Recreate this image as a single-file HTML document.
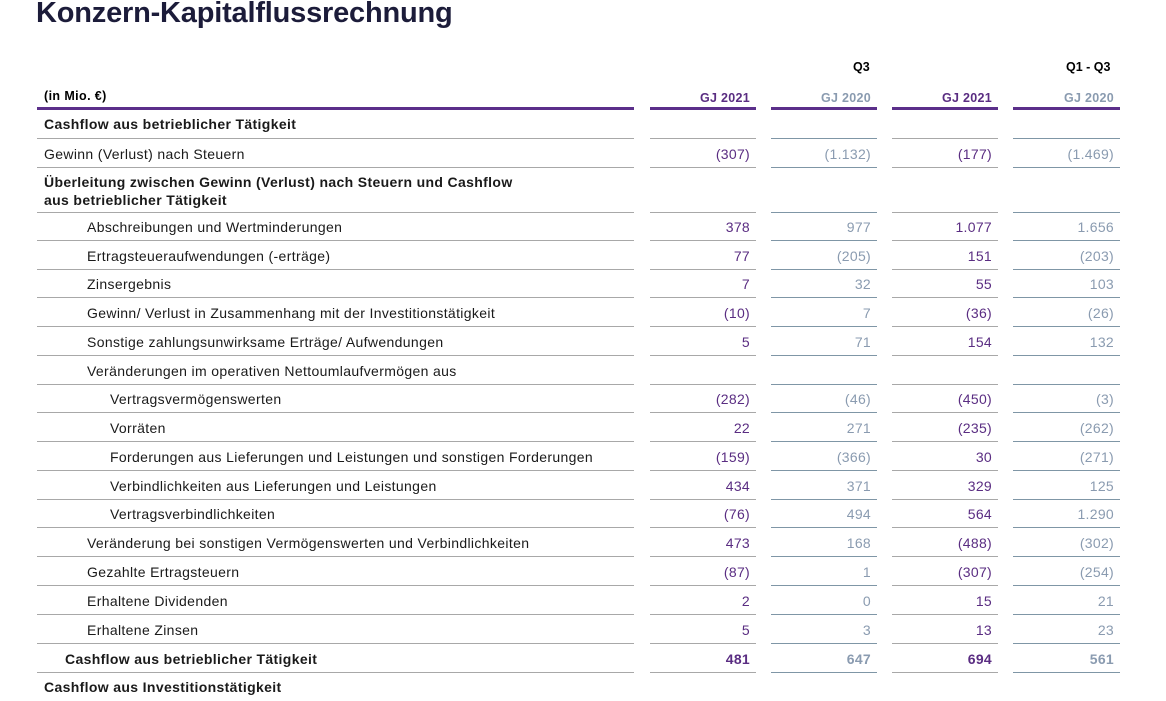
<!DOCTYPE html>
<html><head><meta charset="utf-8">
<style>
body{margin:0;width:1166px;height:701px;background:#fff;position:relative;overflow:hidden;font-family:"Liberation Sans",sans-serif;}
.a{position:absolute;white-space:nowrap;}
.t{font-size:29px;font-weight:bold;color:#1c1c3a;left:36px;top:-3px;letter-spacing:-0.2px}
.ln{position:absolute;height:1px;}
.lbl{font-size:14px;color:#1a1a1a;line-height:18px;letter-spacing:0.35px}
.num{font-size:14px;text-align:right;width:100px;line-height:18px;letter-spacing:0.3px}
.p{color:#5a2d82}.g{color:#8a9bb0}
.b{font-weight:bold}
</style></head><body>
<div class="a t">Konzern-Kapitalflussrechnung</div>
<div class="a b" style="left:853px;top:60px;font-size:12.5px;color:#000">Q3</div>
<div class="a b" style="left:1066px;top:60px;font-size:12.5px;color:#000">Q1 - Q3</div>
<div class="a b" style="left:44px;top:89px;font-size:12.5px;color:#000;letter-spacing:0.4px">(in Mio. €)</div>
<div id="root"></div>
<script>
const cols=[{x:650,w:106,c:'p',lc:'#a8a8a8',h:'GJ 2021'},{x:771,w:106,c:'g',lc:'#7f96a6',h:'GJ 2020'},{x:892,w:106,c:'p',lc:'#a8a8a8',h:'GJ 2021'},{x:1013,w:107,c:'g',lc:'#7f96a6',h:'GJ 2020'}];
const labels=["Cashflow aus betrieblicher Tätigkeit","Gewinn (Verlust) nach Steuern","Überleitung zwischen Gewinn (Verlust) nach Steuern und Cashflow<br>aus betrieblicher Tätigkeit","Abschreibungen und Wertminderungen","Ertragsteueraufwendungen (-erträge)","Zinsergebnis","Gewinn/ Verlust in Zusammenhang mit der Investitionstätigkeit","Sonstige zahlungsunwirksame Erträge/ Aufwendungen","Veränderungen im operativen Nettoumlaufvermögen aus","Vertragsvermögenswerten","Vorräten","Forderungen aus Lieferungen und Leistungen und sonstigen Forderungen","Verbindlichkeiten aus Lieferungen und Leistungen","Vertragsverbindlichkeiten","Veränderung bei sonstigen Vermögenswerten und Verbindlichkeiten","Gezahlte Ertragsteuern","Erhaltene Dividenden","Erhaltene Zinsen","Cashflow aus betrieblicher Tätigkeit","Cashflow aus Investitionstätigkeit"];
const indents=[44,44,44,87,87,87,87,87,87,110,110,110,110,110,87,87,87,87,65,44];
const bolds=[1,0,1,0,0,0,0,0,0,0,0,0,0,0,0,0,0,0,1,1];
const q3_2021=["","(307)","","378","77","7","(10)","5","","(282)","22","(159)","434","(76)","473","(87)","2","5","481",""];
const q3_2020=["","(1.132)","","977","(205)","32","7","71","","(46)","271","(366)","371","494","168","1","0","3","647",""];
const ytd_2021=["","(177)","","1.077","151","55","(36)","154","","(450)","(235)","30","329","564","(488)","(307)","15","13","694",""];
const ytd_2020=["","(1.469)","","1.656","(203)","103","(26)","132","","(3)","(262)","(271)","125","1.290","(302)","(254)","21","23","561",""];
const series=[q3_2021,q3_2020,ytd_2021,ytd_2020];
const bounds=[109,139,168,213,241,270,298,327,356,385,413,442,471,500,528,557,586,615,644,673,701];
const root=document.getElementById('root');
function mk(cls,html,st){const d=document.createElement('div');d.className=cls;d.innerHTML=html;d.style.cssText=st;root.appendChild(d);return d;}
let hl=mk('ln','','left:37px;top:107px;width:597px;height:3px;background:#5b2f8a');


cols.forEach((c,i)=>{
 let h=mk('a num b '+c.c,c.h,`left:${c.x-6}px;top:89px;font-size:12.5px;width:${c.w}px`);
 
 
 let l=mk('ln','',`left:${c.x}px;top:107px;width:${c.w}px;height:3px;background:#5b2f8a`);
 
 
});
labels.forEach((lab,r)=>{
 const top=bounds[r],bot=bounds[r+1];
 const two=lab.includes('<br>');
 const ty=two?top+5:Math.round((top+bot)/2)-9;
 let d=mk('a lbl'+(bolds[r]?' b':''),lab,`left:${indents[r]}px;top:${ty}px`);
 
 
 cols.forEach((c,i)=>{
  const v=series[i][r];
  if(v){let n=mk('a num '+c.c+(bolds[r]?' b':''),v,`left:${c.x-6}px;top:${ty}px;width:${c.w}px`);
  
  }
  if(r<labels.length-1){let l=mk('ln','',`left:${c.x}px;top:${bot-1}px;width:${c.w}px;background:${c.lc}`);
  
  }
 });
 if(r<labels.length-1){let l=mk('ln','',`left:37px;top:${bot-1}px;width:597px;background:#a8a8a8`);
 
 }
});
</script>
</body></html>
